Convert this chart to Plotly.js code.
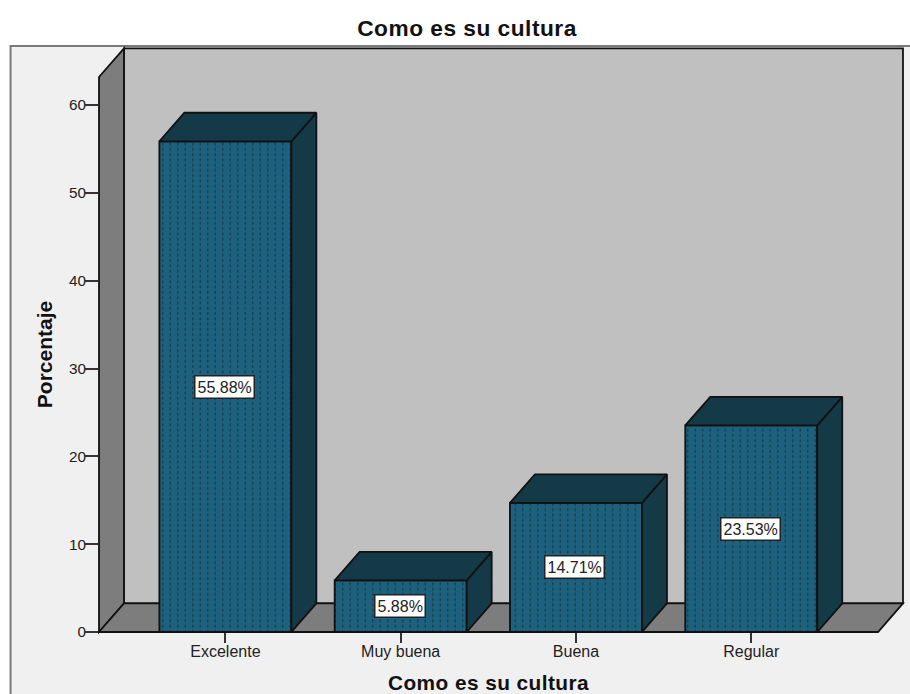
<!DOCTYPE html>
<html><head><meta charset="utf-8">
<script src="https://cdn.plot.ly/plotly-3.0.1.min.js"></script>
<style>html,body{margin:0;padding:0;background:#fff}#c{width:910px;height:694px}
#c .gtitle{letter-spacing:.5px}#c .xtitle{letter-spacing:.45px}</style>
</head><body><div id="c"></div>
<script>
const categories = ["Excelente","Muy buena","Buena","Regular"];
const percentages = [55.88,5.88,14.71,23.53];
const labels = ["55.88%","5.88%","14.71%","23.53%"];
const yTicks = [0,10,20,30,40,50,60];

const W=910,H=694,L=98.5,R=878,T=77,B=632;
const xMin=-0.721,xMax=3.723,yMax=63.2;
const barW=0.753,dx=0.1425,dy=3.25;   // oblique depth in axis units
const fx=v=>(v-xMin)/(xMax-xMin), fy=v=>v/yMax;
const poly=p=>'M'+p.map(q=>fx(q[0])+','+fy(q[1])).join('L')+'Z';
const wall=(p,fill)=>({type:'path',xref:'paper',yref:'paper',layer:'below',path:poly(p),fillcolor:fill,line:{color:'#111',width:1.8}});
const px=v=>(v-L)/(R-L), py=v=>(B-v)/(B-T);

const ink='#111';
const x0=xMin,x1=xMax;
const shapes=[
 {type:'rect',xref:'paper',yref:'paper',layer:'below',x0:px(10),x1:px(930),y0:py(720),y1:py(46),fillcolor:'#f0f0f0',line:{color:'#7a7a7a',width:2}},
 wall([[x0+dx,dy],[x1+dx,dy],[x1+dx,yMax+dy],[x0+dx,yMax+dy]],'#c0c0c0'),
 wall([[x0,0],[x0+dx,dy],[x0+dx,yMax+dy],[x0,yMax]],'#7d7d7d'),
 wall([[x0,0],[x1,0],[x1+dx,dy],[x0+dx,dy]],'#7d7d7d')
];

const xs=categories.map((_,i)=>i);
const face=(fn)=>{const X=[],Y=[];percentages.forEach((v,i)=>{fn(i,v).forEach(q=>{X.push(q[0]);Y.push(q[1])});X.push(null);Y.push(null)});return {x:X,y:Y}};
const topFaces=face((i,v)=>{const a=i-barW/2,b=i+barW/2;return [[a,v],[b,v],[b+dx,v+dy],[a+dx,v+dy],[a,v]]});
const sideFaces=face((i,v)=>{const b=i+barW/2;return [[b,0],[b+dx,dy],[b+dx,v+dy],[b,v],[b,0]]});
const facet=f=>({type:'scatter',mode:'lines',x:f.x,y:f.y,fill:'toself',fillcolor:'#143a47',line:{color:ink,width:1.8},hoverinfo:'skip',showlegend:false,cliponaxis:false});

const faceColor='#1d617e', dotColor='#15404f';
const traces=[
 {type:'bar',x:xs,y:percentages,width:barW,hoverinfo:'skip',showlegend:false,
  marker:{color:faceColor,line:{color:ink,width:1.8},pattern:{shape:'.',bgcolor:faceColor,fgcolor:dotColor,size:15,solidity:0.1,fillmode:'replace'}}},
 facet(sideFaces),facet(topFaces)
];
const annotations=percentages.map((v,i)=>({x:i,y:v/2,xref:'x',yref:'y',xshift:-1,text:labels[i],showarrow:false,bgcolor:'#fff',bordercolor:'#222',borderwidth:1.5,borderpad:2,font:{family:'Liberation Sans',size:16,color:'#222'}}));

const layout={
 width:W,height:H,paper_bgcolor:'#fff',plot_bgcolor:'rgba(0,0,0,0)',showlegend:false,
 margin:{l:L,r:W-R,t:T,b:H-B,pad:0},
 font:{family:'Liberation Sans',color:'#222'},
 title:{text:'<b>Como es su cultura</b>',x:467/W,xref:'container',xanchor:'center',y:1-28/H,yref:'container',yanchor:'middle',font:{size:22.7,color:'#111',family:'Liberation Sans'}},
 xaxis:{range:[xMin,xMax],tickmode:'array',tickvals:xs,ticktext:categories,ticks:'outside',ticklen:10,tickwidth:2,tickcolor:'#333',showgrid:false,zeroline:false,showline:false,ticklabelstandoff:-5,tickfont:{size:16,color:'#222'},
   title:{text:'<b>Como es su cultura</b>',standoff:18,font:{size:20.8,color:'#111'}}},
 yaxis:{range:[0,yMax],tickmode:'array',tickvals:yTicks,ticks:'outside',ticklen:13,tickwidth:2,tickcolor:'#333',showgrid:false,zeroline:false,showline:false,ticklabelstandoff:-4,tickfont:{size:15.3,color:'#222'},
   title:{text:'<b>Porcentaje</b>',standoff:10,font:{size:21,color:'#111'}}},
 shapes,annotations,bargap:0
};
Plotly.newPlot('c',traces,layout,{staticPlot:true,displayModeBar:false}).then(()=>{
 const NS='http://www.w3.org/2000/svg';
 document.querySelectorAll('#c pattern').forEach(p=>{
  p.removeAttribute('patternTransform');
  p.setAttribute('width',15);p.setAttribute('height',10.6);
  [...p.children].forEach(c=>{if(c.tagName==='rect'){c.setAttribute('width',15);c.setAttribute('height',10.6)}else c.remove()});
  [[3,2],[10.5,7.3]].forEach(q=>{const r=document.createElementNS(NS,'rect');r.setAttribute('x',q[0]);r.setAttribute('y',q[1]);r.setAttribute('width',1.5);r.setAttribute('height',2.6);r.setAttribute('fill',dotColor);p.appendChild(r);
   const r2=r.cloneNode();r2.setAttribute('y',q[1]+5.3>10.6?q[1]-5.3:q[1]+5.3);p.appendChild(r2);});
 });
});
</script></body></html>
